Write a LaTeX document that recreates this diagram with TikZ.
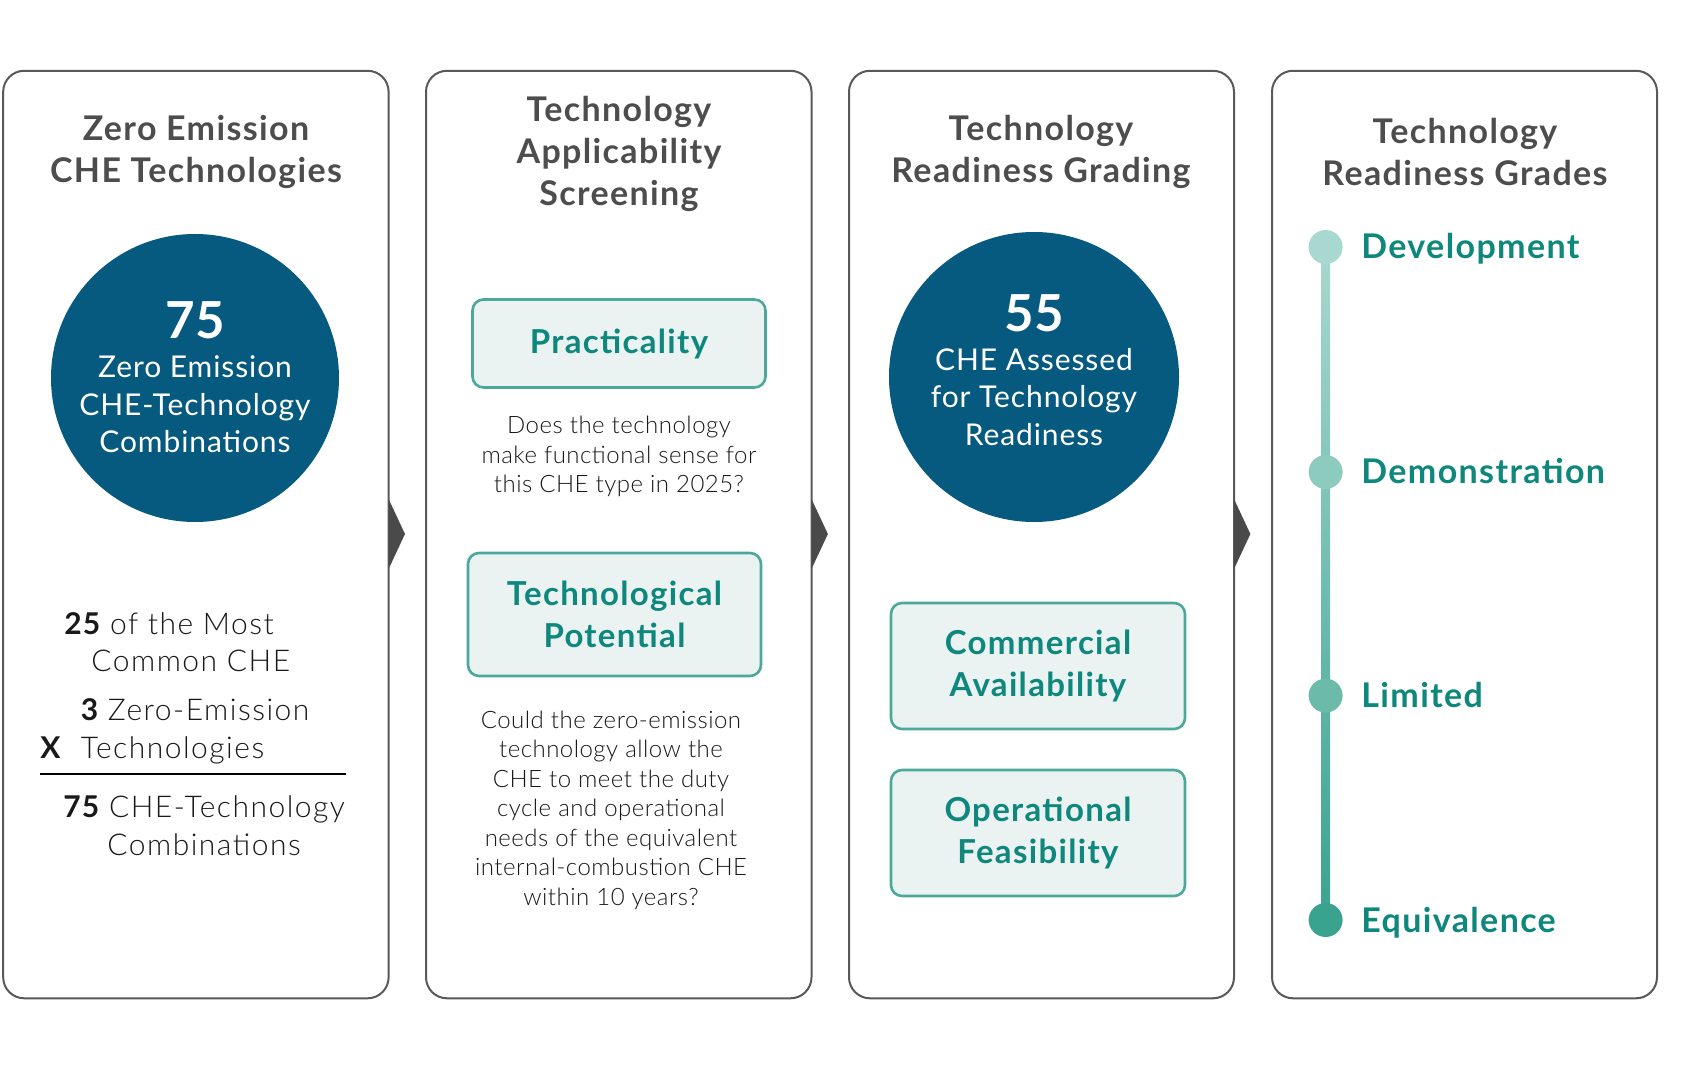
\documentclass[tikz,border=0pt]{standalone}
\usepackage{fontspec}
\setmainfont{Lato}
\newfontfamily\wideb{Lato}[LetterSpace=4]
\newfontfamily\widec{Lato}[LetterSpace=3]
\newfontfamily\bodyl{Lato Light}[LetterSpace=5]
\newfontfamily\questl{Lato Light}[LetterSpace=2]
\definecolor{titlegray}{HTML}{4D4D4D}
\definecolor{panelgray}{HTML}{58595B}
\definecolor{tealtext}{HTML}{0E877C}
\definecolor{boxfill}{HTML}{EAF2F2}
\definecolor{boxline}{HTML}{4BA89A}
\definecolor{circblue}{HTML}{065A7F}
\definecolor{arrowgray}{HTML}{4A4A4A}
\definecolor{dotA}{HTML}{A8D8D0}
\definecolor{dotB}{HTML}{8ECBBF}
\definecolor{dotC}{HTML}{6CBAA9}
\definecolor{dotD}{HTML}{3AA38F}
\newcommand{\bnum}[1]{{\wideb\bfseries #1}}
\tikzset{
  panel/.style={draw=panelgray, line width=1pt, rounded corners=10.5pt, fill=white},
  ptitle/.style={align=center, text=titlegray, font=\wideb\bfseries\fontsize{17}{20.8}\selectfont, inner sep=0pt},
  bignum/.style={text=white, font=\bfseries\fontsize{25.5}{30}\selectfont, inner sep=0pt},
  circtext/.style={align=center, text=white, font=\widec\fontsize{15}{18.8}\selectfont, inner sep=0pt},
  greenbox/.style={draw=boxline, line width=1.3pt, fill=boxfill, rounded corners=5.5pt, minimum width=146.5pt, align=center, text=tealtext, font=\wideb\bfseries\fontsize{16.5}{21}\selectfont},
  question/.style={align=center, text=black!90, font=\questl\fontsize{12}{14.75}\selectfont, inner sep=0pt},
  bodyline/.style={anchor=base west, text=black!90, font=\bodyl\fontsize{15}{18.5}\selectfont, inner sep=0pt},
  grade/.style={anchor=base west, text=tealtext, font=\wideb\bfseries\fontsize{17}{20}\selectfont, inner sep=0pt},
  tri/.style={fill=arrowgray}
}
\begin{document}
\begin{tikzpicture}[x=0.5pt,y=-0.5pt]
\useasboundingbox (0,0) rectangle (1683,1069);
% panels
\draw[panel] (3.2,70.8) rectangle (388.6,998.3);
\draw[panel] (426,70.8) rectangle (811.5,998.3);
\draw[panel] (849,70.8) rectangle (1234,998.3);
\draw[panel] (1272,70.8) rectangle (1657,998.3);
% arrows between panels
\fill[tri] (388.6,499) -- (405,534) -- (388.6,569) -- cycle;
\fill[tri] (811.5,499) -- (827.9,534) -- (811.5,569) -- cycle;
\fill[tri] (1234,499) -- (1250.4,534) -- (1234,569) -- cycle;
% titles
\node[ptitle] (t1) at (196,152) {Zero Emission\\CHE Technologies};
\node[ptitle] (t2) at (619,154) {Technology\\Applicability\\Screening};
\node[ptitle] (t3) at (1041,152) {Technology\\Readiness Grading};
\node[ptitle] (t4) at (1465,152) {Technology\\Readiness Grades};
% panel 1 circle
\fill[circblue] (195,378) circle (144);
\node[bignum] (n75) at (195,320) {75};
\node[circtext] (c1) at (195,404.5) {Zero Emission\\CHE-Technology\\Combinations};
% panel 1 lower text
\node[bodyline] (l1) at (64,635) {\bnum{25} of the Most};
\node[bodyline] (l2) at (91,672) {Common CHE};
\node[bodyline] (l3) at (80.5,720.5) {\bnum{3} Zero-Emission};
\node[bodyline] (lx) at (40,758) {\bnum{X}};
\node[bodyline] (l4) at (80.5,758) {Technologies};
\coordinate (rl) at (40,774);
\coordinate (rr) at (345.6,774);
\draw[black, line width=1pt] (rl) -- (rr);
\node[bodyline] (l5) at (63,817) {\bnum{75} CHE-Technology};
\node[bodyline] (l6) at (107,855) {Combinations};
% panel 2
\node[greenbox, minimum height=44pt] (prac) at (619,343.5) {Practicality};
\node[question] (q1) at (619,456.5) {Does the technology\\make functional sense for\\this CHE type in 2025?};
\node[greenbox, minimum height=61.5pt] (tech) at (614.5,614.5) {Technological\\Potential};
\node[question] (q2) at (611,810) {Could the zero-emission\\technology allow the\\CHE to meet the duty\\cycle and operational\\needs of the equivalent\\internal-combustion CHE\\within 10 years?};
% panel 3
\fill[circblue] (1034,377) circle (145);
\node[bignum] (n55) at (1034,313) {55};
\node[circtext] (c3) at (1034,397) {CHE Assessed\\for Technology\\Readiness};
\node[greenbox, minimum width=147pt, minimum height=63pt] (comm) at (1038,666) {Commercial\\Availability};
\node[greenbox, minimum width=147pt, minimum height=63pt] (oper) at (1038,833) {Operational\\Feasibility};
% panel 4 timeline
\shade[top color=dotA, bottom color=dotD] (1321.1,247) rectangle (1330.1,920);
\fill[dotA] (1325.6,247) circle (17);
\fill[dotB] (1325.6,472) circle (17);
\fill[dotC] (1325.6,695.6) circle (17);
\fill[dotD] (1325.6,920) circle (17);
\node[grade] (g1) at (1361,259) {Development};
\node[grade] (g2) at (1361,484) {Demonstration};
\node[grade] (g3) at (1361,707.5) {Limited};
\node[grade] (g4) at (1361,932) {Equivalence};
\end{tikzpicture}
\end{document}
